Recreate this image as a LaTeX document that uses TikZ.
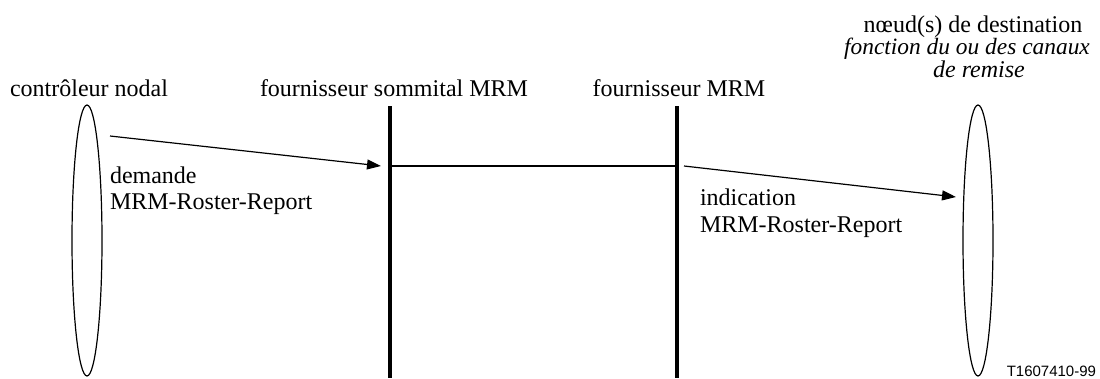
\documentclass[tikz,border=0pt]{standalone}
\usepackage{fontspec}
\setmainfont{Liberation Serif}
\newfontfamily\figsans{Liberation Sans}
\usetikzlibrary{shapes.geometric,arrows.meta}
\begin{document}
\begin{tikzpicture}[x=1pt,y=-1pt,
  every node/.style={inner sep=0pt,outer sep=0pt},
  lbl/.style={font=\fontsize{24}{28}\selectfont},
  entity/.style={draw,ellipse,line width=1.2pt,minimum width=30pt,minimum height=271pt},
  lifeline/.style={line width=4.5pt},
  msg/.style={line width=1.2pt,-{Triangle[length=14pt,width=10pt]}},
  link/.style={line width=2pt}]
\useasboundingbox (0,0) rectangle (1100,378);

% end points (nodes)
\node[entity] (ctrl) at (87,240.5) {};
\node[entity] (dest) at (978,240.5) {};

% provider lifelines
\coordinate (topA) at (390,106);
\coordinate (botA) at (390,378);
\coordinate (topB) at (677,106);
\coordinate (botB) at (677,378);
\draw[lifeline] (topA) -- (botA);
\draw[lifeline] (topB) -- (botB);

% headings
\node[lbl,anchor=base] (hctrl) at (89,96) {contrôleur nodal};
\node[lbl,anchor=base] (hsup) at (394,96) {fournisseur sommital MRM};
\node[lbl,anchor=base] (hmrm) at (679,96) {fournisseur MRM};
\node[lbl,anchor=base] (hd1) at (973,32) {nœud(s) de destination};
\node[lbl,anchor=base] (hd2) at (967,54.5) {\fontsize{23.4}{28}\selectfont\itshape fonction du ou des canaux};
\node[lbl,anchor=base] (hd3) at (979,77) {\itshape de remise};

% messages
\coordinate (m1s) at (110,136);
\coordinate (m1e) at (381,166);
\coordinate (lnkA) at (392,166);
\coordinate (lnkB) at (675,166);
\coordinate (m2s) at (684,166);
\coordinate (m2e) at (956,197);
\draw[msg] (m1s) -- (m1e);
\draw[link] (lnkA) -- (lnkB);
\draw[msg] (m2s) -- (m2e);

\node[lbl,anchor=base west] (req1) at (110,183) {demande};
\node[lbl,anchor=base west] (req2) at (110,209.5) {MRM-Roster-Report};
\node[lbl,anchor=base west] (ind1) at (700,205) {indication};
\node[lbl,anchor=base west] (ind2) at (700,232.5) {MRM-Roster-Report};

\node[anchor=base east,font=\figsans\fontsize{15}{18}\selectfont] (ref) at (1096,376) {T1607410-99};
\end{tikzpicture}
\end{document}
